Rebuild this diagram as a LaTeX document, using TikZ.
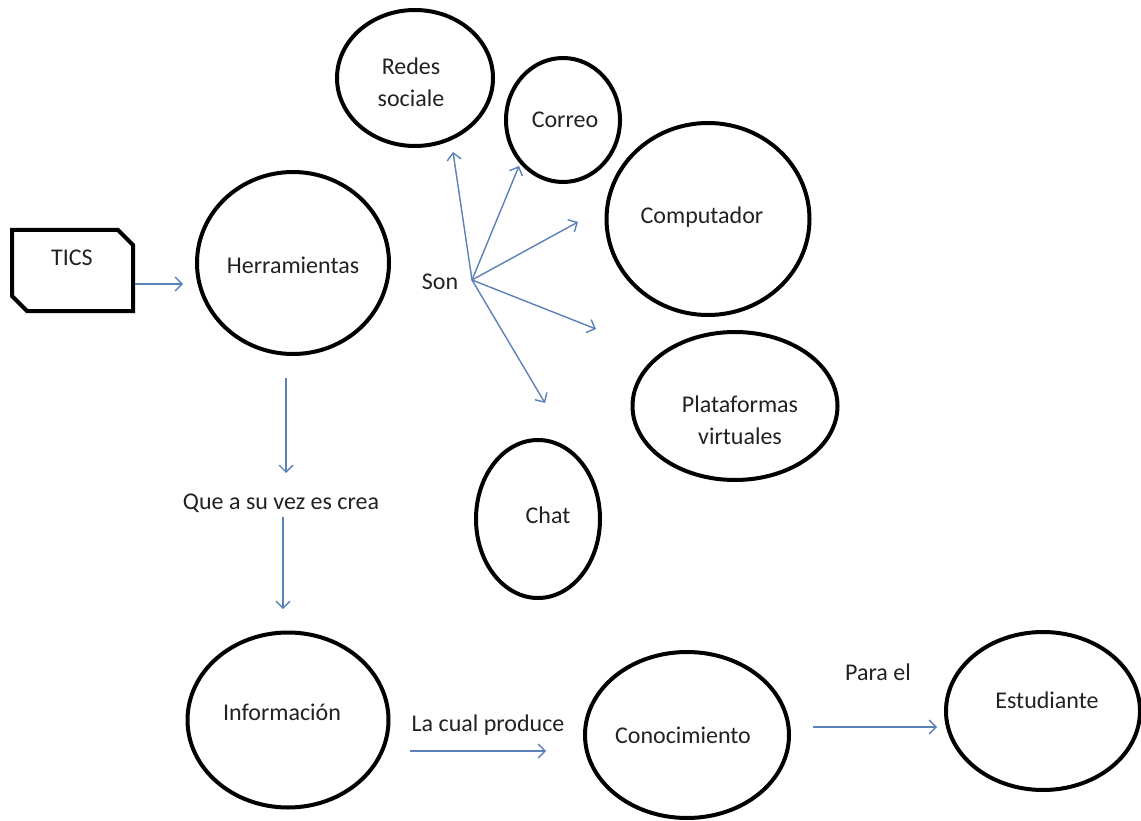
\documentclass[tikz,border=0pt]{standalone}
\usepackage{fontspec}
\setmainfont{Carlito}
\usetikzlibrary{shapes.geometric,arrows.meta}
\definecolor{arrowblue}{HTML}{5B82B8}
\definecolor{txt}{HTML}{222222}
\tikzset{
  bubble/.style={draw=black, line width=4pt, ellipse, inner sep=0pt},
  lbl/.style={text=txt, font=\fontsize{24}{32}\selectfont, align=center, inner sep=0pt},
  conn/.style={draw=arrowblue, line width=1.4pt, -{Straight Barb[length=7pt,width=14pt,line width=1.4pt]}},
}
\begin{document}
\begin{tikzpicture}[x=1pt,y=-1pt]
\useasboundingbox[fill=white] (0,0) rectangle (1141,821);
% TICS box
\draw[line width=4pt, line join=miter] (12,230) -- (118,230) -- (133,245) -- (133,311) -- (27,311) -- (12,296) -- cycle;
\node[lbl] (tics) at (72,258) {TICS};
\coordinate (ticsout) at (135,284);
\coordinate (herin) at (183,284);
% ellipses
\node[bubble, minimum width=192pt, minimum height=182pt] (her) at (293,263) {};
\node[lbl] (hert) at (293,265) {Herramientas};
\node[bubble, minimum width=156pt, minimum height=136pt] (redes) at (415,78) {};
\node[lbl] (redest) at (411,82) {Redes\\sociale};
\node[bubble, minimum width=114pt, minimum height=124pt] (correo) at (563,120) {};
\node[lbl] (correot) at (565,120) {Correo};
\node[bubble, minimum width=203pt, minimum height=192pt] (comp) at (708,219) {};
\node[lbl] (compt) at (702,217) {Computador};
\node[bubble, minimum width=205pt, minimum height=148pt] (plat) at (735,406) {};
\node[lbl] (platt) at (740,420) {Plataformas\\virtuales};
\node[bubble, minimum width=124pt, minimum height=158pt] (chat) at (538,519) {};
\node[lbl] (chatt) at (548,515) {Chat};
\node[bubble, minimum width=201pt, minimum height=175pt] (info) at (288,720) {};
\node[lbl] (infot) at (282,712) {Información};
\node[bubble, minimum width=204pt, minimum height=166pt] (cono) at (687,735) {};
\node[lbl] (conot) at (683,735) {Conocimiento};
\node[bubble, minimum width=194pt, minimum height=158pt] (estu) at (1043,711) {};
\node[lbl] (estut) at (1047,700) {Estudiante};
% labels
\node[lbl] (son) at (440,282) {Son};
\node[lbl] (que) at (281,503) {Que a su vez es crea};
\node[lbl] (cual) at (488,725) {La cual produce};
\node[lbl] (para) at (878,672) {Para el};
% coordinates for free arrow ends
\coordinate (sono) at (472,280);
\coordinate (e1) at (453,152);
\coordinate (e2) at (519,166);
\coordinate (e3) at (578,222);
\coordinate (e4) at (596,329);
\coordinate (e5) at (545,403);
\coordinate (d1s) at (286,378);
\coordinate (d1e) at (286,473);
\coordinate (d2s) at (283,517);
\coordinate (d2e) at (283,609);
\coordinate (h1s) at (410,751);
\coordinate (h1e) at (546,751);
\coordinate (h2s) at (813,727);
\coordinate (h2e) at (937,727);
% connectors
\draw[conn] (ticsout) -- (herin);
\draw[conn] (sono) -- (e1);
\draw[conn] (sono) -- (e2);
\draw[conn] (sono) -- (e3);
\draw[conn] (sono) -- (e4);
\draw[conn] (sono) -- (e5);
\draw[conn] (d1s) -- (d1e);
\draw[conn] (d2s) -- (d2e);
\draw[conn] (h1s) -- (h1e);
\draw[conn] (h2s) -- (h2e);
\end{tikzpicture}
\end{document}
